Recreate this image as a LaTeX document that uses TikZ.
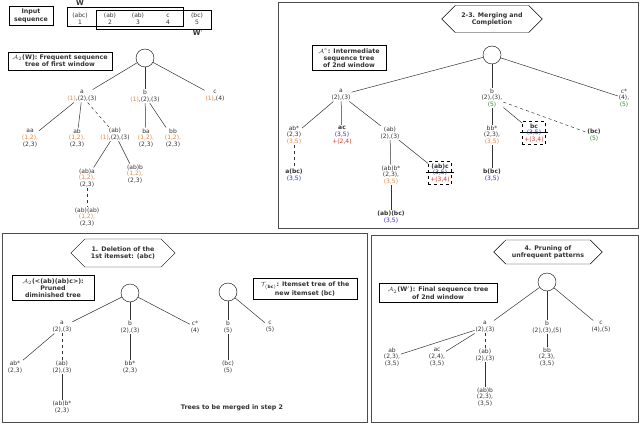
\documentclass[tikz,border=0pt]{standalone}
\usepackage{fontspec}
\setmainfont{DejaVu Sans}
\usetikzlibrary{shapes.symbols}
\definecolor{or}{RGB}{240,130,60}
\definecolor{bl}{RGB}{40,40,230}
\definecolor{rd}{RGB}{235,50,40}
\definecolor{gr}{RGB}{40,140,40}
\newcommand{\cor}[1]{\textcolor{or}{#1}}
\newcommand{\cbl}[1]{\textcolor{bl}{#1}}
\newcommand{\crd}[1]{\textcolor{rd}{#1}}
\newcommand{\cgr}[1]{\textcolor{gr}{#1}}
\newcommand{\strk}[1]{\setbox0\hbox{#1}\rlap{\hspace{-7pt}\color{black}\rule[0.6ex]{\dimexpr\wd0+14pt\relax}{0.5pt}}\box0}
\begin{document}
\begin{tikzpicture}[x=1pt,y=-1pt,
  every node/.style={font=\fontsize{6}{6.8}\selectfont,text=black!80},
  t/.style={align=center,inner sep=0.8pt},
  rt/.style={circle,draw,minimum size=18pt,inner sep=0},
  lbl/.style={draw,thick,align=center,font=\fontsize{6.3}{7.3}\selectfont\bfseries,inner sep=3pt},
  hex/.style={draw,signal,signal to=west and east,align=center,font=\fontsize{6.3}{7.3}\selectfont\bfseries,inner xsep=6pt,inner ysep=2pt},
  frame/.style={draw=black!70,thick},
  e/.style={draw=black!80,line width=0.5pt},
  d/.style={e,dashed},
  db/.style={t,draw,dashed,inner sep=2pt}]
\useasboundingbox (0,0) rectangle (640,425);
% ---------- top left ----------
\node[lbl,minimum width=44pt,minimum height=19pt] (inp) at (31,16) {Input\\sequence};
\node[draw,thick,minimum width=116pt,minimum height=19pt,inner sep=0] (w) at (125,16.5) {};
\node[draw,thick,minimum width=115pt,minimum height=19pt,inner sep=0] (wp) at (153.5,19.5) {};
\node[font=\fontsize{7}{8}\selectfont\bfseries] (wl) at (80,3) {W};
\node[font=\fontsize{7}{8}\selectfont\bfseries] (wpl) at (198,33) {W$'$};
\foreach \n/\x/\s/\i in {s1/80/(abc)/1,s2/110/(ab)/2,s3/138/(ab)/3,s4/168/c/4,s5/197/(bc)/5}
  \node[t] (\n) at (\x,19) {\s\\\i};
\node[lbl,minimum width=104pt] (A2w) at (60,61) {$\mathcal{A}_2$(W): Frequent sequence\\tree of first window};
\node[rt] (r1) at (145,58) {};
\node[t] (a1) at (82,96) {a\\\cor{(1)},(2),(3)};
\node[t] (b1) at (145,96) {b\\\cor{(1)},(2),(3)};
\node[t] (c1) at (215,96) {c\\\cor{(1)},(4)};
\node[t] (aa1) at (30,138) {aa\\\cor{(1,2),}\\(2,3)};
\node[t] (ab1) at (77,138) {ab\\\cor{(1,2),}\\(2,3)};
\node[t] (xab1) at (115,134) {(ab)\\\cor{(1)},(2),(3)};
\node[t] (ba1) at (146,138) {ba\\\cor{(1,2),}\\(2,3)};
\node[t] (bb1) at (173,138) {bb\\\cor{(1,2),}\\(2,3)};
\node[t] (aba1) at (87,178) {(ab)a\\\cor{(1,2),}\\(2,3)};
\node[t] (abb1) at (135,174) {(ab)b\\\cor{(1,2),}\\(2,3)};
\node[t] (abab1) at (87,217) {(ab)(ab)\\\cor{(1,2),}\\(2,3)};
\draw[e] (r1)--(a1); \draw[e] (r1)--(b1); \draw[e] (r1)--(c1);
\draw[e] (a1)--(aa1); \draw[e] (a1)--(ab1); \draw[d] (a1)--(xab1);
\draw[e] (b1)--(ba1); \draw[e] (b1)--(bb1);
\draw[e] (xab1)--(aba1); \draw[e] (xab1)--(abb1);
\draw[d] (aba1)--(abab1);
% ---------- top right ----------
\draw[frame] (278,2) rectangle (638,228);
\node[hex,minimum width=95pt,minimum height=27pt] (h23) at (492,19) {2-3. Merging and\\Completion};
\node[lbl,minimum width=74pt] (Ac) at (349,58) {$\mathcal{A}^c$: Intermediate\\sequence tree\\of 2nd window};
\node[rt] (r2) at (492,55) {};
\node[t] (a2) at (341,95) {a\\(2),(3)};
\node[t] (b2) at (492,98) {b\\(2),(3),\\\cgr{(5)}};
\node[t] (c2) at (624,98) {c*\\(4),\\\cgr{(5)}};
\node[t] (ab2) at (294,135) {ab*\\(2,3)\\\cor{(3,5)}};
\node[t] (ac2) at (342,135) {\textbf{ac}\\\cbl{(3,5)}\\\crd{+(2,4)}};
\node[t] (xab2) at (390,133) {(ab)\\(2),(3)};
\node[t] (abc2) at (294,175) {\textbf{a(bc)}\\\cbl{(3,5)}};
\node[t] (abb2) at (391,175) {(ab)b*\\(2,3),\\\cor{(3,5)}};
\node[db] (abcc2) at (440,173) {\textbf{(ab)c}\\\cbl{\strk{(3,5)}}\\\crd{+(3,4)}};
\node[t] (abbc2) at (391,217) {\textbf{(ab)(bc)}\\\cbl{(3,5)}};
\node[t] (bb2) at (492,135) {bb*\\(2,3),\\\cor{(3,5)}};
\node[db] (bc2) at (534,133) {\textbf{bc}\\\cbl{\strk{(3,5)}}\\\crd{+(3,4)}};
\node[t] (xbc2) at (594,135) {\textbf{(bc)}\\\cgr{(5)}};
\node[t] (bbc2) at (492,175) {\textbf{b(bc)}\\\cbl{(3,5)}};
\draw[e] (r2)--(a2); \draw[e] (r2)--(b2); \draw[e] (r2)--(c2);
\draw[e] (a2)--(ab2); \draw[e] (a2)--(ac2); \draw[e] (a2)--(xab2);
\draw[d] (ab2)--(abc2);
\draw[e] (xab2)--(abb2); \draw[e] (xab2)--(abcc2);
\draw[e] (abb2)--(abbc2);
\draw[e] (b2)--(bb2); \draw[e] (b2)--(bc2); \draw[d] (b2)--(xbc2);
\draw[e] (bb2)--(bbc2);
% ---------- bottom left ----------
\draw[frame] (2,233) rectangle (367,422);
\node[hex,minimum width=82pt,minimum height=28pt] (h1) at (123,253) {1. Deletion of the\\1st itemset: (abc)};
\node[lbl,minimum width=82pt] (A2p) at (53,288) {$\mathcal{A}_2$(<(ab)(ab)c>):\\Pruned\\diminished tree};
\node[lbl,minimum width=104pt] (Tbc) at (305,289) {$\mathcal{T}_{\mathbf{(bc)}}$: Itemset tree of the\\new itemset (bc)};
\node[rt] (r3) at (130,293) {};
\node[rt] (r4) at (228,292) {};
\node[t] (a3) at (62,327) {a\\(2),(3)};
\node[t] (b3) at (130,327) {b\\(2),(3)};
\node[t] (c3) at (195,327) {c*\\(4)};
\node[t] (b4) at (228,327) {b\\(5)};
\node[t] (c4) at (270,327) {c\\(5)};
\node[t] (ab3) at (15,367) {ab*\\(2,3)};
\node[t] (xab3) at (62,367) {(ab)\\(2),(3)};
\node[t] (bb3) at (130,367) {bb*\\(2,3)};
\node[t] (bc4) at (228,367) {(bc)\\(5)};
\node[t] (abb3) at (62,407) {(ab)b*\\(2,3)};
\node[font=\fontsize{6.3}{7.3}\selectfont\bfseries] (merge) at (232,408) {Trees to be merged in step 2};
\draw[e] (r3)--(a3); \draw[e] (r3)--(b3); \draw[e] (r3)--(c3);
\draw[e] (r4)--(b4); \draw[e] (r4)--(c4);
\draw[e] (a3)--(ab3); \draw[d] (a3)--(xab3); \draw[e] (xab3)--(abb3);
\draw[e] (b3)--(bb3); \draw[e] (b4)--(bc4);
% ---------- bottom right ----------
\draw[frame] (371,235) rectangle (638,422);
\node[hex,minimum width=90pt,minimum height=24pt] (h4) at (548,252) {4. Pruning of\\unfrequent patterns};
\node[lbl,minimum width=118pt] (A2f) at (438,293) {$\mathcal{A}_2$(W$'$): Final sequence tree\\of 2nd window};
\node[rt] (r5) at (547,282) {};
\node[t] (a5) at (485,327) {a\\(2),(3)};
\node[t] (b5) at (547,327) {b\\(2),(3),(5)};
\node[t] (c5) at (601,327) {c\\(4),(5)};
\node[t] (ab5) at (392,357) {ab\\(2,3),\\(3,5)};
\node[t] (ac5) at (437,357) {ac\\(2,4),\\(3,5)};
\node[t] (xab5) at (485,355) {(ab)\\(2),(3)};
\node[t] (bb5) at (547,357) {bb\\(2,3),\\(3,5)};
\node[t] (abb5) at (485,397) {(ab)b\\(2,3),\\(3,5)};
\draw[e] (r5)--(a5); \draw[e] (r5)--(b5); \draw[e] (r5)--(c5);
\draw[e] (a5)--(ab5); \draw[e] (a5)--(ac5); \draw[d] (a5)--(xab5);
\draw[e] (xab5)--(abb5); \draw[e] (b5)--(bb5);
\end{tikzpicture}
\end{document}
